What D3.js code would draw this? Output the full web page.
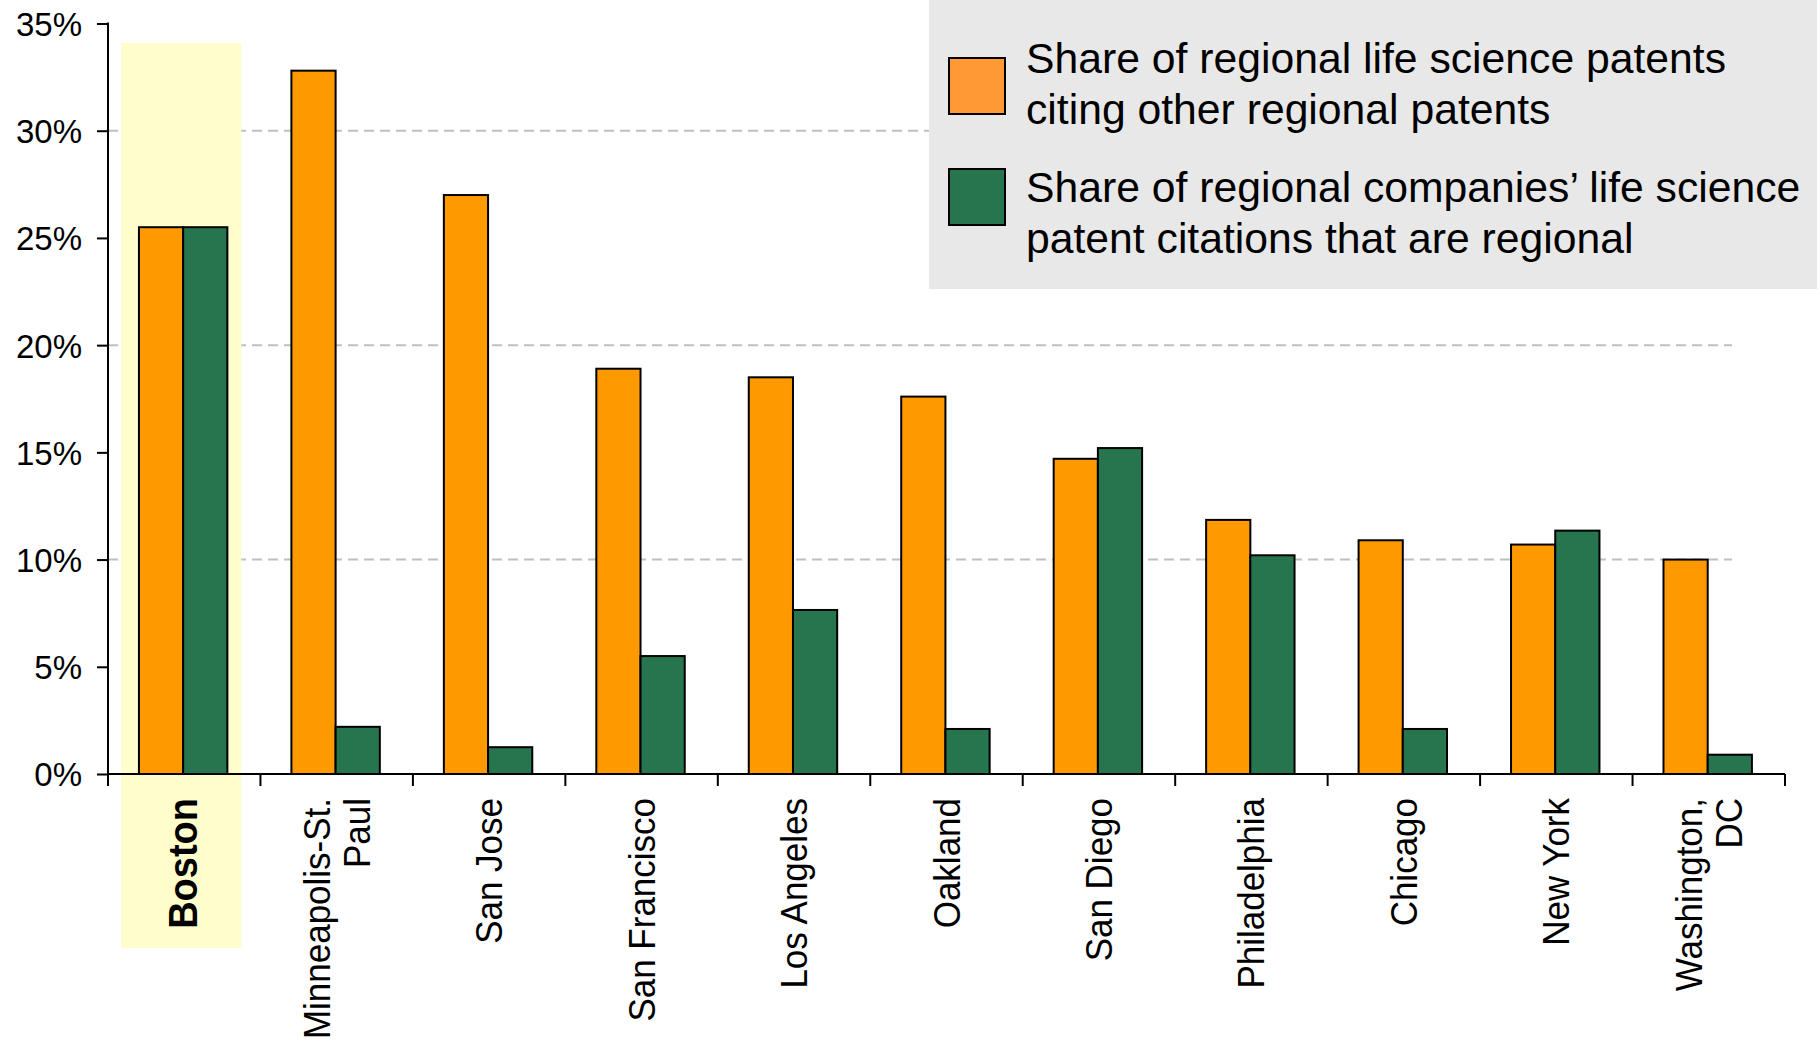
<!DOCTYPE html>
<html>
<head>
<meta charset="utf-8">
<script src="https://cdn.jsdelivr.net/npm/d3@7"></script>
<style>
  html, body { margin: 0; padding: 0; background: #ffffff; }
  svg { display: block; }
  text { font-family: "Liberation Sans", Arial, Helvetica, sans-serif; fill: #000; }
</style>
</head>
<body>
<svg id="chart" width="1820" height="1041"></svg>
<script>
// Metro regions, in display order (line breaks mark wrapped axis labels)
const regions = [
  "Boston", "Minneapolis-St.\nPaul", "San Jose", "San Francisco", "Los Angeles",
  "Oakland", "San Diego", "Philadelphia", "Chicago", "New York", "Washington,\nDC"
];

// Share of regional life science patents citing other regional patents (%)
const patentsCitingRegional = [25.5, 32.8, 27.0, 18.9, 18.5, 17.6, 14.7, 11.85, 10.9, 10.7, 10.0];

// Share of regional companies' life science patent citations that are regional (%)
const companyCitationsRegional = [25.5, 2.2, 1.25, 5.5, 7.65, 2.1, 15.2, 10.2, 2.1, 11.35, 0.9];

const seriesKeys = ["patents", "companies"];
const seriesLabels = [
  ["Share of regional life science patents", "citing other regional patents"],
  ["Share of regional companies\u2019 life science", "patent citations that are regional"]
];
const barColors = ["#FF9900", "#27754F"];
const swatchColors = ["#FF9933", "#27754F"];

const yTicks = [0, 5, 10, 15, 20, 25, 30, 35];
const gridTicks = [10, 20, 30];
const highlighted = "Boston";

const rows = regions.map((r, i) => ({
  region: r,
  patents: patentsCitingRegional[i],
  companies: companyCitationsRegional[i]
}));

const svg = d3.select("#chart");
const font = "\"Liberation Sans\", Arial, Helvetica, sans-serif";

// Plot frame
const left = 108, right = 1785, zeroY = 774, topY = 23.5;

const x = d3.scaleBand().domain(regions).range([left, right]).padding(0);
const bw = x.bandwidth();
const xSub = d3.scaleBand().domain(seriesKeys).range([bw * 0.203, bw * 0.783]).padding(0);
const y = d3.scaleLinear().domain([0, 35]).range([zeroY, topY]);

// Dashed gridlines
svg.append("g").selectAll("line").data(gridTicks).join("line")
  .attr("x1", left).attr("x2", 1732)
  .attr("y1", d => y(d)).attr("y2", d => y(d))
  .attr("stroke", "#C0C0C0").attr("stroke-width", 2)
  .attr("stroke-dasharray", "10,6");

// Highlight band behind the featured region
const hx = x(highlighted);
svg.append("rect")
  .attr("x", hx + bw / 2 - 63).attr("width", 120)
  .attr("y", 43).attr("height", 948 - 43)
  .attr("fill", "#FFFDCC");

// Bars
const groups = svg.append("g").selectAll("g").data(rows).join("g")
  .attr("transform", d => `translate(${x(d.region)},0)`);

groups.selectAll("rect")
  .data(d => seriesKeys.map((k, j) => ({ key: k, value: d[k], j })))
  .join("rect")
  .attr("x", d => xSub(d.key))
  .attr("width", xSub.bandwidth())
  .attr("y", d => y(d.value))
  .attr("height", d => zeroY - y(d.value))
  .attr("fill", d => barColors[d.j])
  .attr("stroke", "#000").attr("stroke-width", 2);

// Y axis
const yAxis = d3.axisLeft(y)
  .tickValues(yTicks)
  .tickFormat(d => d + "%")
  .tickSize(11)
  .tickSizeOuter(0)
  .tickPadding(15);

const yg = svg.append("g").attr("transform", `translate(${left},0)`).call(yAxis);
yg.select(".domain").remove();
yg.selectAll(".tick line").attr("stroke", "#000").attr("stroke-width", 2);
yg.selectAll(".tick text")
  .attr("font-family", font).attr("font-size", 33).attr("fill", "#000").attr("dy", "0.36em");

svg.append("line")
  .attr("x1", left).attr("x2", left)
  .attr("y1", y(35) - 1).attr("y2", zeroY + 12)
  .attr("stroke", "#000").attr("stroke-width", 2);

// X axis line and category boundary ticks
svg.append("line")
  .attr("x1", left).attr("x2", right)
  .attr("y1", zeroY).attr("y2", zeroY)
  .attr("stroke", "#000").attr("stroke-width", 2);

const boundaries = regions.map(r => x(r)).concat([x(regions[regions.length - 1]) + bw]);
svg.append("g").selectAll("line").data(boundaries.slice(1)).join("line")
  .attr("x1", d => d).attr("x2", d => d)
  .attr("y1", zeroY).attr("y2", zeroY + 12)
  .attr("stroke", "#000").attr("stroke-width", 2);

// Rotated category labels
const labelTop = 798;
const lineStep = 40;
const labels = svg.append("g").selectAll("g").data(regions).join("g");
labels.each(function(r) {
  const lines = r.split("\n");
  const cx = x(r) + bw / 2;
  const g = d3.select(this);
  lines.forEach((ln, i) => {
    const bx = cx + 13 + (i - (lines.length - 1) / 2) * lineStep;
    g.append("text")
      .attr("transform", `translate(${bx},${labelTop}) rotate(-90) scale(1,1.08)`)
      .attr("text-anchor", "end")
      .attr("font-family", font)
      .attr("font-size", r === highlighted ? 38 : 35)
      .attr("font-weight", r === highlighted ? "bold" : "normal")
      .text(ln);
  });
});

// Legend
const legend = svg.append("g");
legend.append("rect")
  .attr("x", 929).attr("y", 0).attr("width", 888).attr("height", 289)
  .attr("fill", "#E8E8E8");

const entryTop = [58, 169];
const baselines = [[73, 124], [202, 253]];
seriesKeys.forEach((k, j) => {
  legend.append("rect")
    .attr("x", 949).attr("y", entryTop[j]).attr("width", 56).attr("height", 56)
    .attr("fill", swatchColors[j]).attr("stroke", "#000").attr("stroke-width", 2);
  seriesLabels[j].forEach((ln, i) => {
    legend.append("text")
      .attr("x", 1026).attr("y", baselines[j][i])
      .attr("font-family", font).attr("font-size", 42.7)
      .text(ln);
  });
});
</script>
</body>
</html>
